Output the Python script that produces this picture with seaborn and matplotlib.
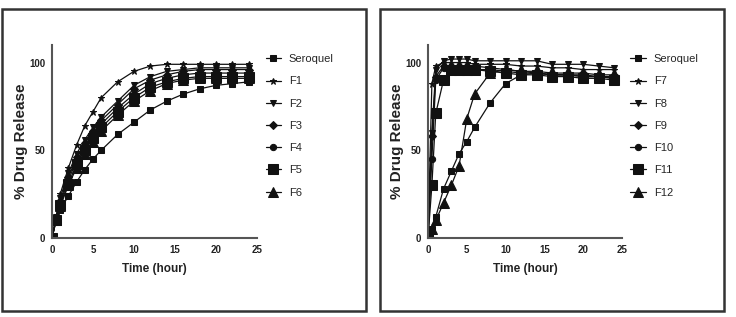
import numpy as np
import pandas as pd
import seaborn as sns
import matplotlib.pyplot as plt
from matplotlib.patches import Rectangle

# sampling times (hour)
time_h = [0, 0.5, 1, 2, 3, 4, 5, 6, 8, 10, 12, 14, 16, 18, 20, 22, 24]

# left panel: % drug release
left_seroquel = [0, 10, 16, 24, 32, 39, 45, 50, 59, 66, 73, 78, 82, 85, 87, 88, 89]
f1 = [0, 12, 25, 40, 53, 64, 72, 80, 89, 95, 98, 99, 99, 99, 99, 99, 99]
f2 = [0, 12, 23, 37, 48, 56, 63, 69, 78, 87, 92, 95, 96, 97, 97, 97, 97]
f3 = [0, 11, 21, 35, 46, 54, 61, 67, 76, 85, 90, 93, 95, 96, 96, 96, 96]
f4 = [0, 11, 20, 33, 44, 52, 59, 65, 74, 82, 88, 91, 93, 94, 94, 94, 94]
f5 = [0, 10, 19, 31, 42, 50, 57, 63, 72, 80, 86, 89, 91, 92, 92, 92, 92]
f6 = [0, 10, 18, 30, 40, 48, 55, 61, 70, 78, 84, 88, 90, 91, 91, 91, 91]

# right panel: % drug release
right_seroquel = [0, 5, 12, 28, 38, 48, 55, 63, 77, 88, 93, 94, 93, 93, 92, 92, 91]
f7 = [0, 88, 98, 100, 100, 100, 100, 99, 99, 99, 98, 98, 97, 97, 96, 96, 96]
f8 = [0, 60, 96, 101, 102, 102, 102, 101, 101, 101, 101, 101, 99, 99, 99, 98, 97]
f9 = [0, 58, 92, 98, 98, 98, 98, 98, 97, 96, 95, 95, 94, 94, 94, 93, 93]
f10 = [0, 45, 90, 97, 97, 97, 97, 96, 96, 95, 94, 94, 93, 93, 93, 92, 92]
f11 = [0, 30, 71, 90, 96, 96, 96, 96, 95, 94, 93, 93, 92, 92, 91, 91, 90]
f12 = [0, 5, 10, 20, 30, 41, 68, 82, 94, 96, 95, 94, 93, 93, 92, 92, 91]

left_names = ["Seroquel", "F1", "F2", "F3", "F4", "F5", "F6"]
left_values = [left_seroquel, f1, f2, f3, f4, f5, f6]
right_names = ["Seroquel", "F7", "F8", "F9", "F10", "F11", "F12"]
right_values = [right_seroquel, f7, f8, f9, f10, f11, f12]

markers = ["s", "*", "v", "D", "o", "s", "^"]
msizes = [4.5, 5, 4.5, 4, 4.5, 6.5, 6.5]

sns.set_style("white")
plt.rcParams["font.family"] = ["Liberation Sans Narrow", "Liberation Sans", "DejaVu Sans"]

fig = plt.figure(figsize=(7.36, 3.17), dpi=100)

# panel frames
for x0, x1 in [(1.5, 365.5), (379.5, 723.5)]:
    fig.patches.append(Rectangle((x0 / 736, 6 / 317), (x1 - x0) / 736, 302 / 317,
                                 transform=fig.transFigure, fill=False,
                                 edgecolor="#333333", linewidth=1.8, zorder=0))

ax_left = fig.add_axes([52 / 736, 79 / 317, 205 / 736, 193 / 317])
ax_right = fig.add_axes([428 / 736, 79 / 317, 194 / 736, 193 / 317])

for ax, names, values in [(ax_left, left_names, left_values),
                          (ax_right, right_names, right_values)]:
    for name, vals, mk, ms in zip(names, values, markers, msizes):
        df = pd.DataFrame({"Time (hour)": time_h, "release": vals})
        sns.lineplot(data=df, x="Time (hour)", y="release", ax=ax, color="#111111",
                     marker=mk, markersize=ms, markeredgecolor="#111111",
                     linewidth=0.9, label=name)
    ax.set_xlim(0, 25)
    ax.set_ylim(0, 110)
    ax.set_xticks([0, 5, 10, 15, 20, 25])
    ax.set_yticks([0, 50, 100])
    ax.set_xlabel("Time (hour)", fontsize=8.5, fontweight="bold", color="#222222", labelpad=6)
    ax.set_ylabel("% Drug Release", fontsize=11, fontweight="bold", color="#222222", labelpad=1)
    sns.despine(ax=ax)
    for side in ["left", "bottom"]:
        ax.spines[side].set_color("#555555")
        ax.spines[side].set_linewidth(1.5)
    ax.tick_params(axis="both", direction="out", length=3, width=1, color="#555555",
                   labelsize=7, labelcolor="#222222", pad=2)
    for lbl in ax.get_xticklabels() + ax.get_yticklabels():
        lbl.set_fontweight("bold")
    ax.legend(loc="upper left", bbox_to_anchor=(1.02, 0.975), frameon=False,
              fontsize=8, handlelength=1.4, handletextpad=0.7, labelspacing=1.1,
              borderaxespad=0)

fig.savefig("out.png", dpi=100)
